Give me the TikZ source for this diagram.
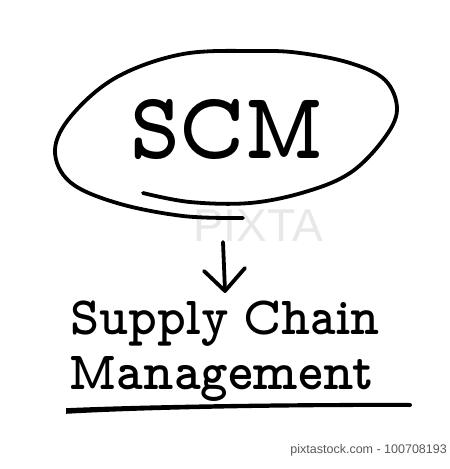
\documentclass[tikz,border=0pt]{standalone}
\usepackage{fontspec}
\usetikzlibrary{calc}
\setmainfont{Liberation Sans}
\newcommand\typew{\fontfamily{lmvtt}\selectfont}
\begin{document}
\begin{tikzpicture}[x=1pt,y=-1pt,
  ink/.style={line width=3.8pt,line cap=round,line join=round},
  label/.style={inner sep=0pt,outer sep=0pt,anchor=base west},
  wm/.style={text=black!9,font=\fontsize{46}{46}\selectfont},
  foot/.style={inner sep=0pt,anchor=base east,text=black!65,font=\fontsize{12.5}{13}\selectfont}]
\useasboundingbox[fill=white] (0,0) rectangle (450,469);
% watermark
\node[wm,anchor=center] (wmark) at (258,226) {PIXTA};
% ellipse (hand-drawn loop)
\draw[ink] plot[smooth,tension=0.6] coordinates {
 (143,193) (190,202) (250,203) (305,192) (350,173) (383,140) (397,110)
 (385,80) (350,63) (300,53) (257,51) (183,54) (117,77) (72,115)
 (55,150) (70,182) (117,203) (183,216) (243,218)};
% SCM
\node[label] (scm) at (130,158) {\scalebox{0.9}[1]{\fontsize{95}{95}\typew\bfseries SCM}};
% arrow
\coordinate (arrtop) at (223,242);
\coordinate (arrtip) at (225,291);
\coordinate (armL) at (204,271);
\coordinate (armR) at (245,268);
\draw[ink] (arrtop) -- (arrtip);
\draw[ink] (armL) -- (arrtip) -- (armR);
% texts
\node[label] (supply) at (70,334) {\scalebox{0.925}[1]{\fontsize{54}{54}\typew\bfseries Supply\hspace{0.3em}Chain}};
\node[label] (mgmt) at (68,389) {\scalebox{0.97}[1]{\fontsize{54}{54}\typew\bfseries Management}};
% underline (brush stroke)
\coordinate (ulL) at (66,411);
\coordinate (ulR) at (410,405);
\fill ($(ulL)+(0,-2.8)$) .. controls (150,404.5) and (300,402.5) .. ($(ulR)+(0,-2)$)
  arc[start angle=-90,end angle=90,radius=2] .. controls (300,406.5) and (150,409) .. ($(ulL)+(0,2.8)$) -- cycle;
% footer
\node[foot] (footer) at (447,453) {pixtastock.com - 100708193};
\end{tikzpicture}
\end{document}
